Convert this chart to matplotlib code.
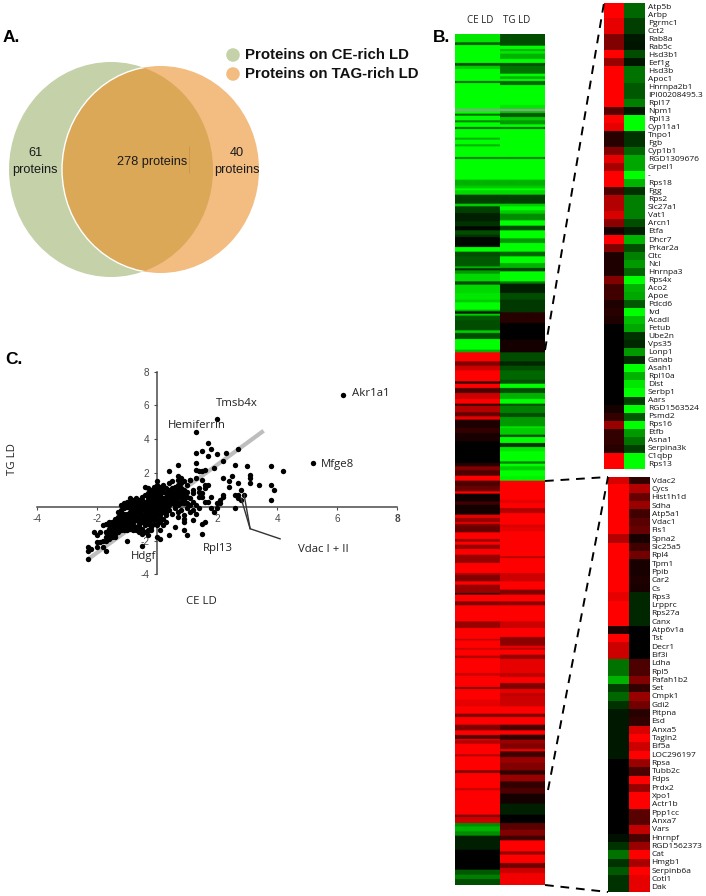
import numpy as np
import matplotlib
matplotlib.use("Agg")
import matplotlib.pyplot as plt
from matplotlib.colors import LinearSegmentedColormap
from matplotlib.patches import Ellipse


# -----------------------------
# Data
# -----------------------------
# main heat map: log ratio per run, and how many rows the run spans
CE_VALUES = [
    -.9, -.35, -1, -.3, -.8, -1, -.4, -1, np.nan, -1, -.4, -1, -.5, -1, -.4, -1, -.7, -1, -.7, -1, -.5, -1,
    -.7, -.8, -1, -.85, -.25, -.8, -.25, -.12, -.2, -.03, -.3, -.2, -.03, -1, -.3, -.35, -.7, -.15, -.6,
    -.85, -.3, -.85, -.9,
    -.8, -1, -.7, -.1, -.8, -.35, -.3, -.8, -.3, -1, -.7, 1, .5, .8, 1, .2, 1, .3, .8, 1, .2, .7, .4, .9,
    .12, .2, .1, 0, .15, .5, .3, 1, .3, .4, 1, .05, .25, .08, .9, .6, 1, .5, .4, 1, .6, 1, .6, 1, .6, 1,
    .7, .5, 1, .6, .2, 1,
    1, .5, 1, .6, 1, .7, 1, .8, 1, .7, 1, .8, 1, .5, 1, .9, 1, .5, 1, .5, 1, .35, .9, .7, 1, .7, 1, .5, 1,
    .8, 1, .5, .8, -.55, -.7, -.55, -.12, 0, -.35, -.5, -.3,
]
CE_ROWS = [
    25, 8, 54, 8, 10, 36, 6, 78, 6, 8, 6, 14, 6, 14, 6, 26, 6, 14, 6, 32, 6, 62,
    18, 8, 6, 13, 27, 8, 20, 25, 15, 12, 13, 7, 30, 14, 14, 30, 6, 6, 10,
    23, 10, 25, 20,
    8, 22, 5, 7, 6, 14, 30, 8, 18, 32, 8, 27, 13, 14, 33, 7, 13, 15, 18, 14, 6, 20, 12, 10,
    25, 15, 25, 65, 10, 12, 16, 15, 15, 17, 7, 23, 10, 30, 10, 13, 4, 8, 18, 20, 8, 9, 13, 17, 25, 30,
    6, 19, 10, 25, 5, 15,
    5, 12, 48, 20, 33, 4, 23, 5, 18, 7, 45, 8, 34, 6, 32, 20, 22, 10, 23, 17, 14, 12, 4, 10, 32, 6, 42, 8, 45,
    7, 73, 7, 18, 10, 15, 13, 42, 60, 15, 13, 18,
]
TG_VALUES = [
    -.3, -1, -.7, -.9, -.7, -1, -.3, -.45, -1, -.7, -1, -.4, -1, -.9, np.nan, -.8, -.35, -.8, -.6, -1, -.4,
    -1, -.5, -1, -.7, -.8, -1, -.85, -.25, -.8, -1, -.8, -.55, -1, -.3, -1, -.6, -1, -.4, -1, -.7, -.25,
    -1, -.5, -.12, -.3,
    -.22, .15, 0, .08, -.3, -.15, -.3, -.4, -.3, -1, -.3, -.7, -1, -.3, -.5, -.3, -.6, -.6, -.9, -.8, -.3,
    -1, -.2, -.9, -1, -.5, -1, -.8, -1, -.95, 1, .9, 1, .7, 1, .85, .9, 1, .7, 1, .8, 1, .5, 1,
    1, .55, 1, .8, 1, .55, .9, .7, 1, .6, .9, .9, .75, 1, .5, .9, .75, .8, 1, .5, 1, .3, 1, .2, .6, .5, .9,
    .25, .6, .5, .2, .6, .2, .3, .08, -.12, 0, .35, .5, .25, 1, .6, 1, .45, .8, .95,
]
TG_ROWS = [
    35, 10, 6, 8, 16, 12, 8, 24, 8, 8, 6, 12, 60, 12, 6, 6, 12, 10, 12, 8, 6,
    84, 6, 62, 18, 8, 6, 13, 27, 8, 12, 10, 20, 16, 14, 24, 14, 26, 14, 20, 15, 10,
    30, 7, 28, 20,
    38, 32, 50, 38, 27, 13, 14, 28, 12, 13, 15, 18, 14, 6, 22, 12, 10, 18, 5, 20, 7,
    18, 12, 13, 30, 7, 8, 12, 18, 13, 57, 10, 15, 15, 35, 7, 13, 75, 5, 45, 25, 25, 15, 15,
    5, 12, 48, 20, 27, 26, 7, 5, 15, 13, 14, 28, 12, 18, 18, 12, 10, 30, 22, 10, 23, 17, 13, 15, 12, 16, 7,
    17, 18, 22, 13, 20, 20, 17, 30, 33, 25, 20, 18, 14, 33, 10, 25, 15, 15, 36,
]

# detail heat map, top
TOP_PROTEINS = [
    "Atp5b", "Arbp", "Pgrmc1", "Cct2", "Rab8a", "Rab5c", "Hsd3b1", "Eef1g", "Hsd3b", "Apoc1", "Hnrnpa2b1",
    "IPI00208495.3", "Rpl17", "Npm1", "Rpl13", "Cyp11a1", "Tnpo1", "Fgb", "Cyp1b1", "RGD1309676", "Grpel1",
    "-", "Rps18", "Fgg", "Rps2", "Slc27a1", "Vat1", "Arcn1", "Etfa", "Dhcr7", "Prkar2a", "Cltc", "Ncl",
    "Hnrnpa3", "Rps4x", "Aco2", "Apoe", "Pdcd6", "Ivd", "Acadl", "Fetub", "Ube2n", "Vps35", "Lonp1", "Ganab",
    "Asah1", "Rpl10a", "Dlst", "Serbp1", "Aars", "RGD1563524", "Psmd2", "Rps16", "Etfb", "Asna1",
    "Serpina3k", "C1qbp", "Rps13",
]
TOP_CE = [
    1, 1, .9, .9, .5, .5, 1, .6, 1, 1, 1, 1, 1, .35, 1, .9, .15, .15, .5, .9, .65, 1, 1, .3, .7, .7, .85,
    .55, .1, 1, .5, .12, .12, .12, .5, .25, .25, .12, .15, .12, 0, 0, 0, 0, 0, 0, 0, 0, 0, 0, .08, .2, .6,
    .2, .2, .15, 1, 1,
]
TOP_TG = [
    -.4, -.4, -.25, -.25, -.1, -.08, -.3, -.08, -.45, -.45, -.35, -.35, -.5, -.1, -1, -1, -.2, -.2, -.4,
    -.65, -.65, -1, -.7, -.2, -.5, -.5, -.5, -.3, -.12, -.7, -.3, -.5, -.6, -.4, -1, -.7, -.65, -.35, -1,
    -.75, -.65, -.2, -.15, -.6, -.15, -1, -.7, -.9, -1, -.25, -1, -.35, -1, -.6, -.45, -.25, -1, -1,
]

# detail heat map, bottom
BOTTOM_PROTEINS = [
    "Vdac2", "Cycs", "Hist1h1d", "Sdha", "Atp5a1", "Vdac1", "Fis1", "Spna2", "Slc25a5", "Rpl4", "Tpm1", "Ppib",
    "Car2", "Cs", "Rps3", "Lrpprc", "Rps27a", "Canx", "Atp6v1a", "Tst", "Decr1", "Eif3i", "Ldha", "Rpl5",
    "Pafah1b2", "Set", "Cmpk1", "Gdi2", "Pitpna", "Esd", "Anxa5", "Tagln2", "Eif5a", "LOC296197", "Rpsa",
    "Tubb2c", "Fdps", "Prdx2", "Xpo1", "Actr1b", "Ppp1cc", "Anxa7", "Vars", "Hnrnpf", "RGD1562373", "Cat",
    "Hmgb1", "Serpinb6a", "Cotl1", "Dak",
]
BOTTOM_CE = [
    .85, 1, 1, 1, 1, 1, 1, .7, 1, 1, 1, 1, 1, 1, .9, 1, 1, 1, .12, 1, .8, .8, -.45, -.45, -.7, -.25, -.4,
    -.2, -.1, -.1, -.1, -.1, -.1, -.1, 0, 0, 0, 0, 0, 0, 0, 0, 0, -.07, -.2, -.45, -.2, -.35, -.2, -.2,
]
BOTTOM_TG = [
    .2, .7, .4, .6, .25, .35, .4, .1, .25, .45, .1, .1, .12, .1, -.15, -.15, -.15, -.15, 0, 0, 0, 0, .3,
    .3, .5, .2, .6, .45, .15, .2, .85, 1, .8, 1, .6, .3, 1, .6, 1, 1, .35, .35, .75, .3, .6, 1, .65, 1, .9, .9,
]

# scatter: CE LD vs TG LD
SCATTER_X = [
    6.2, 2.0, 1.3, 5.2,
    1.7, 1.5, 1.8, 2.7, 1.3, 2.3, 2.0, 1.7, 2.2, 1.3, 2.6, .7, 1.9, 3.0, 3.8, 4.2, .4, 1.3, 1.4, 1.5, 1.6,
    2.5, 2.2, 3.1, 3.1, 2.4, 3.1, 3.4, 3.8, 2.7, 2.4, 3.9, 2.8, 2.6, 2.7, 2.9, 2.7, 2.8, 3.8, 2.6, 2.2,
    2.2, 2.1, 2.0, 2.1, 2.0, 1.9, 1.3, 1.5, 1.1, 1.6, 1.7, 1.4, 1.6, 1.4, 1.5, 1.8, 1.5, 1.4, 1.6, 1.7,
    1.8, 1.5, 1.6, 1.5, 1.0, .9, .6, .4, .1, 0, 1.2, .9, .9,
    -2.3, -2.3, -2.3, -2.2, -2.0, -1.8, -1.7, -2.0, -2.1, -2.0, -1.9, -1.7, -1.7, -1.6, -1.6, -1.4, -1.0,
    -.5, -1.6, -1.7, -1.5, -1.4,
    0, 0, .1, .1, 0, .2, .2, .3, .3, .2, .1, .1, 0, 0, 0, .1, .2, .3, .4, .5, .4, .5, .5, .4, .4, .5, .6,
    .6, .6, .7, .7, .7, .7, .7, .7, .7, .8, .8, .8, .8, .8, .8, .9, .9, .9, .9, 1, 1, 1, 1, 1.1, 1.1, 1.1,
    1.2, 1.2, 1.2, 1.3,
    .1, .1, .2, .2, 0, 0, 0, .3, .3, .4, .5, .6, .7, .7, .8, 1, 1.1, 1.2, 1.3, 1.4, .9, .2, .1, 0, .3,
    -.1, -.2, -.3, -.4, -.3, -.1, -.2, -.4, -.5, -.1, -.2, -.3, -.4, -.5, -.6, -.7, -.8, -.9, -1, -1.1,
    -1.2, -.1, -.2, -.3, -.4, -.5, -.6, -.7, -.8, -.9, -1, -1.1, -1.2, -1.3, -.1, -.2, -.3, -.4, -.5, -.6,
    -.7, -.8, -.9, -1, -1.1, -1.2, -1.3, -1.4, -.1, -.2, -.3, -.4, -.5, -.6, -.7, -.8, -.9, -1, -1.1, -1.2,
    -1.3, -1.4, -1.5, -.1, -.2, -.3, -.4, -.5, -.6, -.7, -.8, -.9, -1, -1.1, -1.2, -1.3, -1.4, -1.5, -.1,
    -.2, -.3, -.4, -.5, -.6, -.7, -.8, -.9, -1, -1.1, -.4, -.5, -.6, -.7, -.8, -.3, -.3, -.2, -1.6, -1.7,
    -1.6, -1.5, -1.4,
    -1.9, -1.8, -1.7, -1.6, -1.5, -1.4, -1.3, -1.2, -1.1, -1, -1.8, -1.5, -1.3, -1.1, -1.2, -1.2, -.9, -.8,
    -.7, -.6, -.5, -.4, -.3, -.2, -.1, -.1, -.3, -.5, -.7, -.9, -1, -.2, -.6, -.8, -.4, -.2, -.7, -.5, -.3,
    -.1, -.9, -1.1, -1.3, -1.2, -1, -.8, -.6, -.2, .1, .2, .3, .1, .2, .3, .4, .5, .6, .6, .5, .3, .2, .1,
    0, .8, .9, .9, .7, .6, .4, .3, -.1, 0, 0, .1,
]
SCATTER_Y = [
    6.6, 5.2, 4.4, 2.6,
    3.8, 3.3, 3.4, 3.4, 3.2, 3.2, 3.1, 3.0, 2.7, 2.6, 2.5, 2.5, 2.3, 2.4, 2.4, 2.1, 2.1, 2.2, 2.1, 2.1, 2.2,
    1.8, 1.7, 1.9, 1.7, 1.5, 1.4, 1.3, 1.3, 1.4, 1.2, 1.0, 1.0, .7, .7, .7, .5, .4, .4, -.1, .7,
    .6, .4, .2, .2, -.1, -.3, 1.7, 1.6, 1.6, 1.3, 1.3, 1.1, 1.1, .9, .8, .6, .6, .6, .3, .3,
    -.1, -1.0, -.9, -1.6, -1.7, -1.4, -1.2, -1.7, -1.9, -1.8, -.8, -.9, -.7,
    -3.1, -2.4, -2.6, -2.5, -2.4, -2.4, -2.6, -2.1, -1.5, -1.7, -1.5, -1.5, -1.0, -1.1, -.9, -.9, -2.0,
    -2.3, -1.9, -2.0, -1.8, -1.8,
    1.5, 1.3, 1.2, 1, 1, 1.3, .9, .8, .5, .5, .7, .4, .7, .5, .3, .2, .1, .2, 1.4, 1.5, 1, 1.1, .7, .6, .3,
    .2, .5, .9, 1.2, 1.8, 1.6, 1.3, 1, .8, .6, .3, 1.7, 1.4, 1.1, .7, .5, .2, 1.5, 1, .6, .4, 1.3, .9, .6,
    .2, 1.6, .5, .1, 1, .8, .3, .1,
    -.2, -.5, -.3, -.7, -.2, -.5, -.8, -.1, -.5, -.2, -.4, -.1, -.3, -.6, -.2, -.1, -.3, -.2, -.4, -.1,
    -.5, -1.1, -1.4, -1.1, -.9,
    1.2, 1, 1.1, 1.2, .8, .8, .6, .7, .6, .4, .3, .4, .3, .3, .4, .5, .4, .3, .3, .2, .1, .1, 0, .1, 0, .1,
    .1, .1, .1, 0, 0, -.1, -.2, -.3, -.1, -.2, -.3, -.2, -.2, -.2, -.3, -.2, -.3, -.4, -.4, -.5, -.6, -.7,
    -.4, -.5, -.6, -.5, -.5, -.6, -.5, -.6, -.6, -.7, -.8, -.8, -.9, -1, -1.1, -.7, -.8, -.9, -.8, -.9, -.9,
    -.8, -.9, -1, -1, -1.1, -1.2, -1.3, -1.3, -1.4, -1, -1.1, -1, -1.1, -1.3, -1.2, -1.2, -1.3, -1.3, -1.4,
    -1.4, -1.5, -1.6, -1.5, -1.4, -1.4, -1.4, -1.7, -1.4, -1.3, -1.5, -1.6, -1.7, -1.6,
    -2.1, -2.0, -1.8, -1.6, -1.5, -1.2, -1.1, -1, -.9, -.8, -1.1, -.9, -.7, -.6, -.3, -.6, -.1, -.1,
    -.1, -.3, -.1, .1, -.1, .2, -.3, .6, .6, .4, .3, .5, .1, .8, -.4, -.4, -.4, -.4, -.7, -.7, -.8,
    -.6, -.8, -.7, -1.5, -1.4, -1.2, -1.1, -1.1, -1.2, -.9, -.1, -.3, 0, .3, .3, .1, .4, .3, .7, .9, 1.1, 1.1, .9,
    .9, .9, .8, .2, .1, .1, .8, .6, 1, .1, -.3, -.7,
]
TREND_X = [-2.3, 3.55]
TREND_Y = [-3.1, 4.5]

# -----------------------------
# Theme
# -----------------------------
WIDTH = 706
HEIGHT = 896
BODY_FONT = ["Open Sans", "DejaVu Sans"]
VENN_FONT = ["Liberation Sans", "DejaVu Sans"]
GREEN = "#c4d1a9"
ORANGE = "#f3bc80"
OVERLAP = "#dba858"
AXIS_COLOR = "#4a4a4a"

plt.rcParams["axes.unicode_minus"] = False

HEAT_CMAP = LinearSegmentedColormap.from_list("gbr", ["#00ff00", "#000000", "#ff0000"])
HEAT_CMAP.set_bad("#9a9a9a")

fig = plt.figure(figsize=(WIDTH / 100, HEIGHT / 100), dpi=100, facecolor="white")


def px_axes(left, top, right, bottom, **kwargs):
    # axes placed by reference pixel box
    return fig.add_axes(
        [left / WIDTH, 1 - bottom / HEIGHT, (right - left) / WIDTH, (bottom - top) / HEIGHT], **kwargs
    )


def draw_heat(left, top, right, bottom, ce, tg, interp="nearest"):
    ax = px_axes(left, top, right, bottom)
    mid = (left + right) / 2
    for col, extent_x in ((ce, (left, mid)), (tg, (mid, right))):
        ax.imshow(
            np.array(col)[:, None],
            cmap=HEAT_CMAP,
            vmin=-1,
            vmax=1,
            aspect="auto",
            interpolation=interp,
            extent=(extent_x[0], extent_x[1], bottom, top),
        )
    ax.set_xlim(left, right)
    ax.set_ylim(bottom, top)
    ax.axis("off")


def draw_names(names, x, top, bottom):
    row = (bottom - top) / len(names)
    for i, name in enumerate(names):
        over.text(x, top + row * (i + .5), name, fontsize=6.0, family=BODY_FONT, color="#111111",
                  ha="left", va="center")


# -----------------------------
# A. Venn diagram + overlay for text
# -----------------------------
over = fig.add_axes([0, 0, 1, 1], zorder=5)
over.set_xlim(0, WIDTH)
over.set_ylim(HEIGHT, 0)
over.axis("off")
over.patch.set_alpha(0)

green = Ellipse((111, 169.5), 204, 215, facecolor=GREEN, edgecolor="none")
orange = Ellipse((160.5, 169.5), 197, 207, facecolor=ORANGE, edgecolor="none")
over.add_patch(green)
over.add_patch(orange)
overlap = Ellipse((111, 169.5), 204, 215, facecolor=OVERLAP, edgecolor="none")
over.add_patch(overlap)
overlap.set_clip_path(Ellipse((160.5, 169.5), 197, 207, transform=over.transData))
# white rim of the orange circle over the green one
rim = Ellipse((160.5, 169.5), 197, 207, facecolor="none", edgecolor="white", lw=1)
over.add_patch(rim)
rim.set_clip_path(Ellipse((111, 169.5), 204, 215, transform=over.transData))
over.plot([188.5, 188.5], [146, 173], color="#c98f45", lw=.5)

for text, x, y in [("61", 35, 153), ("proteins", 35, 170), ("278 proteins", 152, 161.5),
                   ("40", 237, 153), ("proteins", 237, 170)]:
    over.text(x, y, text, fontsize=9.2, family=VENN_FONT, color="#1a1a1a", ha="center", va="center")

over.scatter([233, 233], [55, 74], s=95, c=[GREEN, ORANGE], linewidths=0)
for text, y in [("Proteins on CE-rich LD", 55), ("Proteins on TAG-rich LD", 74)]:
    over.text(245, y, text, fontsize=10.8, family=VENN_FONT, weight="bold", color="#111111",
              ha="left", va="center")

for text, x, y in [("A.", 3, 38), ("B.", 433, 37), ("C.", 5, 359)]:
    over.text(x, y, text, fontsize=12.5, family=VENN_FONT, weight="bold", color="black", ha="left", va="center")

# -----------------------------
# B. Heat maps
# -----------------------------
draw_heat(455, 34, 545, 885, np.repeat(CE_VALUES, CE_ROWS), np.repeat(TG_VALUES, TG_ROWS), interp="antialiased")
draw_heat(604, 3, 644.7, 469, TOP_CE, TOP_TG)
draw_heat(608, 477, 649, 892, BOTTOM_CE, BOTTOM_TG)

over.text(480, 20.5, "CE LD", fontsize=7, family=BODY_FONT, color="#222222", ha="center", va="center")
over.text(517, 20.5, "TG LD", fontsize=7, family=BODY_FONT, color="#222222", ha="center", va="center")

draw_names(TOP_PROTEINS, 648, 3, 469)
draw_names(BOTTOM_PROTEINS, 651.5, 477, 892)

for xs, ys in [((545, 604), (350, 3)), ((545, 608), (481, 477)), ((548, 608), (790, 477)), ((545, 608), (885, 892))]:
    over.plot(xs, ys, color="black", lw=1.4, linestyle=(0, (4.5, 3.5)))

# -----------------------------
# C. Scatter
# -----------------------------
ax = px_axes(37.3, 371.7, 397, 574.3)
ax.patch.set_alpha(0)
ax.set_xlim(-4, 8)
ax.set_ylim(-4, 8)
ax.plot(TREND_X, TREND_Y, color="#bdbdbd", lw=3, solid_capstyle="butt", zorder=1)
ax.scatter(SCATTER_X, SCATTER_Y, s=15, color="black", linewidths=0, zorder=3)
ax.plot([4.1, 3.1, 2.8], [-1.9, -1.3, .5], color="#333333", lw=1, zorder=4)
ax.plot([3.1, 2.9], [-1.3, .7], color="#333333", lw=1, zorder=4)

for side in ("top", "right"):
    ax.spines[side].set_visible(False)
for side in ("left", "bottom"):
    ax.spines[side].set_position("zero")
    ax.spines[side].set_color(AXIS_COLOR)
    ax.spines[side].set_linewidth(1.1)
ax.set_xticks([-4, -2, 2, 4, 6, 8])
ax.set_yticks([-4, -2, 2, 4, 6, 8])
ax.tick_params(axis="both", labelsize=7.2, colors=AXIS_COLOR, length=2.5, width=.8, pad=3)
for label in ax.get_xticklabels() + ax.get_yticklabels():
    label.set_family(VENN_FONT)
ax.get_xticklabels()[-1].set_weight("bold")

for text, x, y, ha in [("Akr1a1", 352, 394, "left"), ("Tmsb4x", 237, 404, "center"),
                       ("Hemiferrin", 197, 426, "center"), ("Mfge8", 321, 465, "left"),
                       ("Hdgf", 144, 556, "center"), ("Rpl13", 218, 549, "center"),
                       ("Vdac I + II", 323.5, 549, "center"), ("CE LD", 201, 601, "center")]:
    over.text(x, y, text, fontsize=8.2, family=BODY_FONT, color="#222222", ha=ha, va="center")
over.text(12.5, 459, "TG LD", fontsize=8.2, family=BODY_FONT, color="#222222", rotation=90, ha="center", va="center")

fig.savefig("out.png", dpi=100)
